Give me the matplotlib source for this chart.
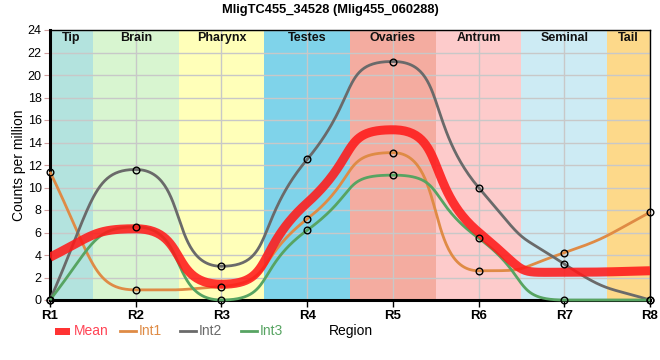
import numpy as np
import matplotlib
matplotlib.use("Agg")
import matplotlib.pyplot as plt
from matplotlib.lines import Line2D
from matplotlib.patches import Rectangle

plt.rcParams['font.family'] = ['Liberation Sans', 'DejaVu Sans']

regions = ["R1", "R2", "R3", "R4", "R5", "R6", "R7", "R8"]
mean_vals = [3.8, 6.33, 1.4, 8.63, 15.13, 6.03, 2.47, 2.6]
int1_vals = [11.4, 0.9, 1.2, 7.2, 13.1, 2.6, 4.2, 7.8]
int2_vals = [0.0, 11.6, 3.0, 12.5, 21.2, 10.0, 3.2, 0.0]
int3_vals = [0.0, 6.5, 0.0, 6.2, 11.1, 5.5, 0.0, 0.0]

bands = ["Tip", "Brain", "Pharynx", "Testes", "Ovaries", "Antrum", "Seminal", "Tail"]
band_edges = [0, 0.5, 1.5, 2.5, 3.5, 4.5, 5.5, 6.5, 7]
band_colors = ["#b3e3de", "#d8f5d0", "#ffffb9", "#7fd3ea", "#f4aca0",
               "#fdcbcb", "#cdebf4", "#fdd98a"]
yticks = list(range(0, 25, 2))


def smooth_path(x, y, a_end=0.5, a_mid=0.62, n=60):
    x = np.asarray(x, float)
    y = np.asarray(y, float)
    m = len(x)
    h = np.diff(x)
    s = np.diff(y) / h
    t = np.zeros(m)
    for i in range(1, m - 1):
        s0, s1 = s[i - 1], s[i]
        p = (s0 * h[i] + s1 * h[i - 1]) / (h[i - 1] + h[i])
        t[i] = (np.sign(s0) + np.sign(s1)) * min(abs(s0), abs(s1), 0.5 * abs(p))
    t[0] = (3 * s[0] - t[1]) / 2
    t[-1] = (3 * s[-1] - t[-2]) / 2
    xs, ys = [], []
    u = np.linspace(0, 1, n)
    for i in range(m - 1):
        a = a_end if (i == 0 or i == m - 2) else a_mid
        d = h[i] * a
        P0 = (x[i], y[i])
        P1 = (x[i] + d, y[i] + d * t[i])
        P2 = (x[i + 1] - d, y[i + 1] - d * t[i + 1])
        P3 = (x[i + 1], y[i + 1])
        bx = (1 - u) ** 3 * P0[0] + 3 * (1 - u) ** 2 * u * P1[0] + 3 * (1 - u) * u ** 2 * P2[0] + u ** 3 * P3[0]
        by = (1 - u) ** 3 * P0[1] + 3 * (1 - u) ** 2 * u * P1[1] + 3 * (1 - u) * u ** 2 * P2[1] + u ** 3 * P3[1]
        xs.extend(bx)
        ys.extend(by)
    return np.array(xs), np.array(ys)


W, H = 660, 360
fig = plt.figure(figsize=(6.6, 3.6), dpi=100)
ax = fig.add_axes([50 / W, 60 / H, 600 / W, 270 / H])
ax.set_xlim(0, 7)
ax.set_ylim(0, 24)

for i, (name, col) in enumerate(zip(bands, band_colors)):
    ax.axvspan(band_edges[i], band_edges[i + 1], color=col, lw=0, zorder=0)
    ax.text((band_edges[i] + band_edges[i + 1]) / 2, 23.8, name, ha="center", va="top",
            fontsize=9, fontweight="bold", color="#111111", zorder=5)

ax.set_xticks(range(len(regions)))
ax.set_xticklabels(regions, fontweight="bold", fontsize=9.5)
ax.set_yticks(yticks)
ax.tick_params(axis="y", labelsize=9, length=4, color="#d0a0a0", pad=2)
ax.tick_params(axis="x", length=5, width=1, pad=2)
ax.grid(True, color="#c8c8c8", lw=1, zorder=1)
ax.set_axisbelow(True)

xi = np.arange(len(regions))
c_int1, c_int2, c_int3, c_mean = "#df8b45", "#6a6a6a", "#57a462", "#ff1a1a"
series = [(int1_vals, c_int1), (int2_vals, c_int2), (int3_vals, c_int3)]
for vals, col in series:
    sx, sy = smooth_path(xi, vals)
    ax.plot(sx, sy, color=col, lw=2.0, zorder=3, clip_on=False, solid_capstyle="butt")

mx, my = smooth_path(xi, mean_vals)
ax.plot(mx, my, color=c_mean, lw=6.5, alpha=0.88, zorder=4, solid_capstyle="butt")

for vals, col in series:
    ax.plot(xi, vals, ls="none", marker="o", ms=4.8, mfc="none", mec="black", mew=1,
            zorder=6, clip_on=False)

for side in ["left", "bottom"]:
    ax.spines[side].set_linewidth(2.2)
for side in ["top", "right"]:
    ax.spines[side].set_linewidth(1)

ax.set_ylabel("Counts per million", fontsize=10)
ax.yaxis.set_label_coords(-24 / 600, 0.5)

fig.text(330 / W, 1 - 10 / H, "MligTC455_34528 (Mlig455_060288)", fontsize=9.3,
         fontweight="bold", ha="center", va="center")

# legend (manual, figure pixel coordinates)
ly = 1 - 331 / H
fig.patches.append(Rectangle((55 / W, 1 - 334.5 / H), 15 / W, 7 / H, transform=fig.transFigure,
                             facecolor="#ff3333", edgecolor="none"))
fig.text(74 / W, ly, "Mean", color="#ff4455", fontsize=10, va="center", ha="left")
for x0, col, lab in [(120, c_int1, "Int1"), (180, c_int2, "Int2"), (241, c_int3, "Int3")]:
    fig.lines.append(Line2D([x0 / W, (x0 + 16) / W], [ly, ly], transform=fig.transFigure,
                            color=col, lw=2.0))
    fig.text((x0 + 19) / W, ly, lab, color=col, fontsize=10, va="center", ha="left")
fig.text(351 / W, ly, "Region", fontsize=10, va="center", ha="center")

fig.savefig("out.png", dpi=100)
